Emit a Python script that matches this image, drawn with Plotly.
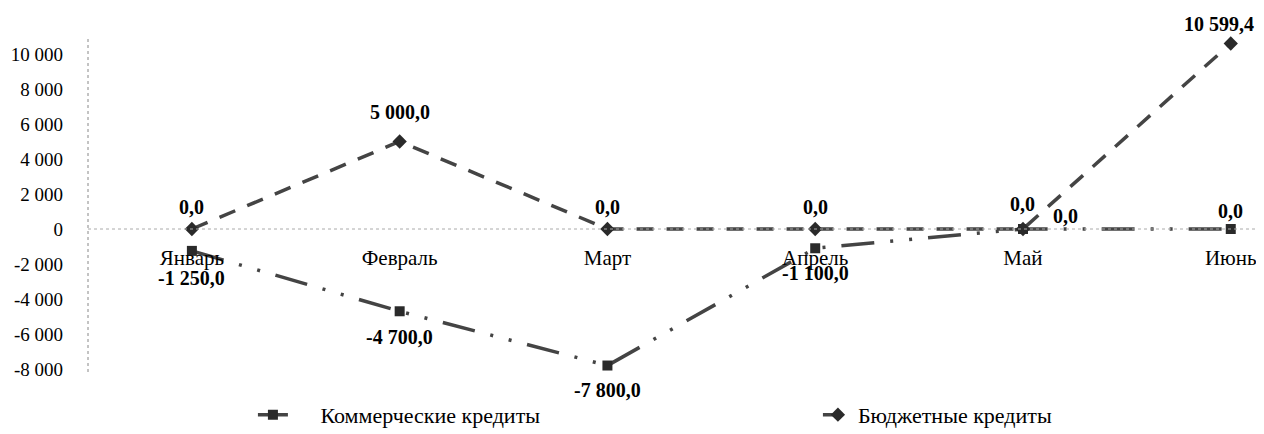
import plotly.graph_objects as go

# данные
months = ["Январь", "Февраль", "Март", "Апрель", "Май", "Июнь"]
commercial = [-1250.0, -4700.0, -7800.0, -1100.0, 0.0, 0.0]
budget = [0.0, 5000.0, 0.0, 0.0, 0.0, 10599.4]
y_ticks = [-8000, -6000, -4000, -2000, 0, 2000, 4000, 6000, 8000, 10000]

FONT = "Liberation Serif, Times New Roman, serif"
Y_RANGE = [-8170, 10970]

# сдвиги подписей данных (в пикселях) относительно точек
commercial_shift = [(0, -27), (0, -26), (0, -24), (0, -25), (43, 13), (0, 18)]
budget_shift = [(0, 22), (0, 29), (0, 22), (0, 22), (0, 25), (-12, 19)]


def fmt(value, decimals=1):
    # русский формат: пробел между разрядами, запятая как десятичный знак
    text = f"{value:,.{decimals}f}"
    return text.replace(",", " ").replace(".", ",")


fig = go.Figure()

fig.add_trace(go.Scatter(
    x=months, y=commercial,
    name="\u00a0\u00a0\u00a0\u00a0\u00a0Коммерческие кредиты",
    mode="lines+markers",
    line=dict(color="#444444", width=3.5, dash="33px,16px,3px,16px,3px,16px"),
    marker=dict(symbol="square", size=10, color="#2a2a2a"),
    cliponaxis=False,
))

fig.add_trace(go.Scatter(
    x=months, y=budget,
    name="Бюджетные кредиты",
    mode="lines+markers",
    line=dict(color="#444444", width=3.5, dash="17px,13px"),
    marker=dict(symbol="diamond", size=11, color="#2a2a2a"),
    cliponaxis=False,
))

# подписи значений
label_font = dict(family=FONT, size=20, color="black", weight="bold")
for values, shifts in ((commercial, commercial_shift), (budget, budget_shift)):
    for month, value, (dx, dy) in zip(months, values, shifts):
        fig.add_annotation(
            x=month, y=value, text=fmt(value), showarrow=False,
            xshift=dx, yshift=dy, font=label_font,
        )

zero_pos = -Y_RANGE[0] / (Y_RANGE[1] - Y_RANGE[0])

# страница добавляет отступ 8px, поэтому фигура чуть меньше окна
fig.update_layout(
    width=1256, height=426,
    margin=dict(l=80, r=0, t=29, b=62),
    paper_bgcolor="white", plot_bgcolor="white",
    font=dict(family=FONT, size=18, color="black"),
    legend=dict(
        orientation="h", xref="container", yref="container",
        x=0.195, y=0.045, xanchor="left", yanchor="middle",
        entrywidth=520, font=dict(family=FONT, size=22),
    ),
    shapes=[
        # нулевая линия и ось Y пунктиром
        dict(type="line", xref="paper", yref="y", x0=0, x1=1, y0=0, y1=0,
             line=dict(color="#aaaaaa", width=1, dash="dot")),
        dict(type="line", xref="paper", yref="paper", x0=0, x1=0, y0=0, y1=1,
             line=dict(color="#888888", width=1, dash="dot")),
    ],
)

fig.update_xaxes(
    type="category", range=[-0.5, 5.16], automargin=False,
    anchor="free", position=zero_pos,
    showline=False, showgrid=False, zeroline=False, ticks="",
    ticklabelstandoff=14,
    tickfont=dict(family=FONT, size=21),
)
fig.update_yaxes(
    range=Y_RANGE, automargin=False,
    tickvals=y_ticks, ticktext=[fmt(v, 0) for v in y_ticks],
    showline=False, showgrid=False, zeroline=False, ticks="",
    ticklabelstandoff=24,
    tickfont=dict(family=FONT, size=19),
)

fig.write_html("out.html")
